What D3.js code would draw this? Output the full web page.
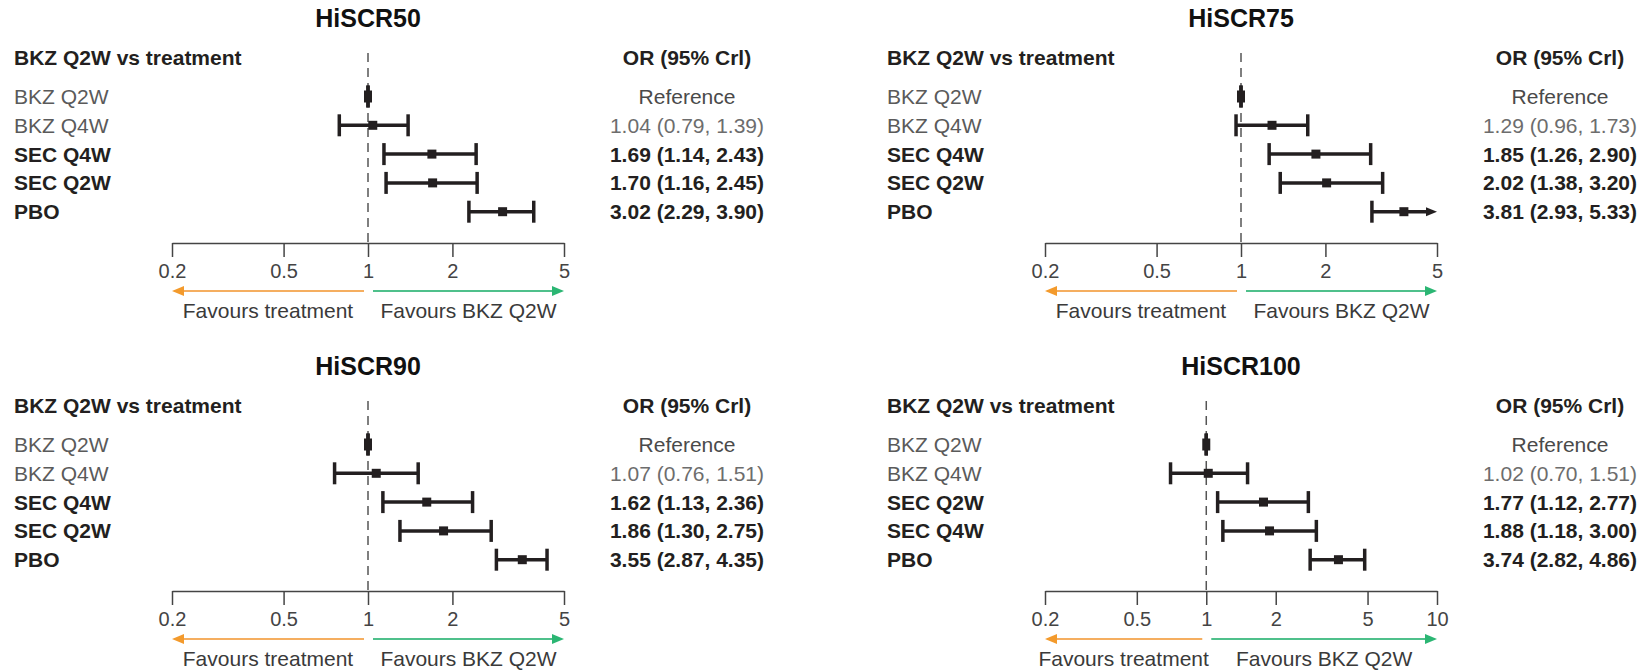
<!DOCTYPE html>
<html>
<head>
<meta charset="utf-8">
<script src="https://cdn.jsdelivr.net/npm/d3@7"></script>
<style>
  body { margin: 0; background: #fff; }
  svg { display: block; }
  text { font-family: "Liberation Sans", Arial, sans-serif; }
</style>
</head>
<body>
<svg id="chart" width="1643" height="672"></svg>
<script>
// 데이터
const titles = ['HiSCR50', 'HiSCR75', 'HiSCR90', 'HiSCR100'];

const labels50 = ['BKZ Q2W', 'BKZ Q4W', 'SEC Q4W', 'SEC Q2W', 'PBO'];
const or50 = [1, 1.04, 1.69, 1.70, 3.02];
const lo50 = [1, 0.79, 1.14, 1.16, 2.29];
const hi50 = [1, 1.39, 2.43, 2.45, 3.90];

const labels75 = ['BKZ Q2W', 'BKZ Q4W', 'SEC Q4W', 'SEC Q2W', 'PBO'];
const or75 = [1, 1.29, 1.85, 2.02, 3.81];
const lo75 = [1, 0.96, 1.26, 1.38, 2.93];
const hi75 = [1, 1.73, 2.90, 3.20, 5.33];

const labels90 = ['BKZ Q2W', 'BKZ Q4W', 'SEC Q4W', 'SEC Q2W', 'PBO'];
const or90 = [1, 1.07, 1.62, 1.86, 3.55];
const lo90 = [1, 0.76, 1.13, 1.30, 2.87];
const hi90 = [1, 1.51, 2.36, 2.75, 4.35];

const labels100 = ['BKZ Q2W', 'BKZ Q4W', 'SEC Q2W', 'SEC Q4W', 'PBO'];
const or100 = [1, 1.02, 1.77, 1.88, 3.74];
const lo100 = [1, 0.70, 1.12, 1.18, 2.82];
const hi100 = [1, 1.51, 2.77, 3.00, 4.86];

const ticks5 = [0.2, 0.5, 1, 2, 5];
const ticks10 = [0.2, 0.5, 1, 2, 5, 10];

const panels = [
    { title: titles[0], labels: labels50, or: or50, lo: lo50, hi: hi50, ticks: ticks5, ox: 0, oy: 0 },
    { title: titles[1], labels: labels75, or: or75, lo: lo75, hi: hi75, ticks: ticks5, ox: 873, oy: 0 },
    { title: titles[2], labels: labels90, or: or90, lo: lo90, hi: hi90, ticks: ticks5, ox: 0, oy: 348 },
    { title: titles[3], labels: labels100, or: or100, lo: lo100, hi: hi100, ticks: ticks10, ox: 873, oy: 348 }
];

const svg = d3.select('#chart');
const dark = '#231f20';
const fmt = d3.format('.2f');

const drawPanel = function(p) {
    const g = svg.append('g');
    const x = d3.scaleLog()
        .domain([p.ticks[0], p.ticks[p.ticks.length - 1]])
        .range([p.ox + 172, p.ox + 564]);
    const y = d3.scalePoint()
        .domain(d3.range(p.labels.length))
        .range([p.oy + 96.5, p.oy + 211.7]);
    const axisY = p.oy + 243;
    const xMin = x.domain()[0], xMax = x.domain()[1];

    // 제목
    g.append('text')
        .attr('x', (x.range()[0] + x.range()[1]) / 2)
        .attr('y', p.oy + 27)
        .attr('text-anchor', 'middle')
        .attr('font-size', 25).attr('font-weight', 'bold')
        .attr('fill', '#111')
        .text(p.title);

    // 헤더
    g.append('text')
        .attr('x', p.ox + 14).attr('y', p.oy + 65)
        .attr('font-size', 21).attr('font-weight', 'bold').attr('fill', dark)
        .text('BKZ Q2W vs treatment');
    g.append('text')
        .attr('x', p.ox + 687).attr('y', p.oy + 65)
        .attr('text-anchor', 'middle')
        .attr('font-size', 21).attr('font-weight', 'bold').attr('fill', dark)
        .text('OR (95% Crl)');

    // 기준선 (OR = 1)
    g.append('line')
        .attr('x1', x(1)).attr('x2', x(1))
        .attr('y1', p.oy + 53).attr('y2', axisY)
        .attr('stroke', '#555').attr('stroke-width', 1.5)
        .attr('stroke-dasharray', '9,6');

    // 축
    const ax = g.append('g')
        .attr('transform', `translate(0,${axisY})`)
        .call(d3.axisBottom(x).tickValues(p.ticks).tickFormat(d3.format('~g'))
            .tickSize(14).tickSizeOuter(0).tickPadding(7));
    ax.select('.domain').attr('stroke', '#444').attr('stroke-width', 1.5);
    ax.selectAll('.tick line').attr('stroke', '#444').attr('stroke-width', 1.5);
    ax.selectAll('.tick text')
        .attr('font-size', 20)
        .attr('font-family', '"Liberation Sans", Arial, sans-serif')
        .attr('fill', '#444');

    // 행 라벨 / OR 텍스트
    p.labels.forEach(function(lab, i) {
        const isBkz = lab.startsWith('BKZ');
        g.append('text')
            .attr('x', p.ox + 14).attr('y', y(i) + 7.5)
            .attr('font-size', 21)
            .attr('font-weight', isBkz ? 'normal' : 'bold')
            .attr('fill', isBkz ? '#5a5a5a' : dark)
            .text(lab);
        const txt = i === 0 ? 'Reference'
            : `${fmt(p.or[i])} (${fmt(p.lo[i])}, ${fmt(p.hi[i])})`;
        g.append('text')
            .attr('x', p.ox + 687).attr('y', y(i) + 7.5)
            .attr('text-anchor', 'middle')
            .attr('font-size', 21)
            .attr('font-weight', isBkz ? 'normal' : 'bold')
            .attr('fill', i === 0 ? '#4a4a4a' : (isBkz ? '#6d6d6d' : dark))
            .text(txt);
    });

    // 신뢰구간
    p.labels.forEach(function(lab, i) {
        const cy = y(i);
        const x1 = x(Math.max(p.lo[i], xMin));
        const over = p.hi[i] > xMax;
        const x2 = x(Math.min(p.hi[i], xMax));
        g.append('line')
            .attr('x1', x1).attr('x2', over ? x2 - 8 : x2)
            .attr('y1', cy).attr('y2', cy)
            .attr('stroke', dark).attr('stroke-width', 3.5);
        g.append('line')
            .attr('x1', x1).attr('x2', x1)
            .attr('y1', cy - 11).attr('y2', cy + 11)
            .attr('stroke', dark).attr('stroke-width', 3.5);
        if (over) {
            g.append('path')
                .attr('d', `M${x2},${cy} L${x2 - 11},${cy - 4.5} L${x2 - 11},${cy + 4.5} Z`)
                .attr('fill', dark);
        } else {
            g.append('line')
                .attr('x1', x2).attr('x2', x2)
                .attr('y1', cy - 11).attr('y2', cy + 11)
                .attr('stroke', dark).attr('stroke-width', 3.5);
        }
        const s = i === 0 ? 8 : 9;
        g.append('rect')
            .attr('x', x(p.or[i]) - s / 2).attr('y', cy - (i === 0 ? 6 : 4.5))
            .attr('width', s).attr('height', i === 0 ? 12 : 9)
            .attr('fill', dark);
    });

    // 화살표
    const arrY = p.oy + 291;
    const left0 = x(1) - 4, left1 = x(xMin);
    const right0 = x(1) + 5, right1 = x(xMax);
    g.append('line')
        .attr('x1', left0).attr('x2', left1 + 10)
        .attr('y1', arrY).attr('y2', arrY)
        .attr('stroke', '#f5ae60').attr('stroke-width', 2);
    g.append('path')
        .attr('d', `M${left1},${arrY} L${left1 + 12},${arrY - 5} L${left1 + 12},${arrY + 5} Z`)
        .attr('fill', '#f39a2c');
    g.append('line')
        .attr('x1', right0).attr('x2', right1 - 10)
        .attr('y1', arrY).attr('y2', arrY)
        .attr('stroke', '#4fc08b').attr('stroke-width', 2);
    g.append('path')
        .attr('d', `M${right1},${arrY} L${right1 - 12},${arrY - 5} L${right1 - 12},${arrY + 5} Z`)
        .attr('fill', '#2bb673');

    g.append('text')
        .attr('x', (left0 + left1) / 2).attr('y', p.oy + 318)
        .attr('text-anchor', 'middle')
        .attr('font-size', 21).attr('fill', '#3a3a3a')
        .text('Favours treatment');
    g.append('text')
        .attr('x', (right0 + right1) / 2).attr('y', p.oy + 318)
        .attr('text-anchor', 'middle')
        .attr('font-size', 21).attr('fill', '#3a3a3a')
        .text('Favours BKZ Q2W');
};

panels.forEach(drawPanel);
</script>
</body>
</html>
